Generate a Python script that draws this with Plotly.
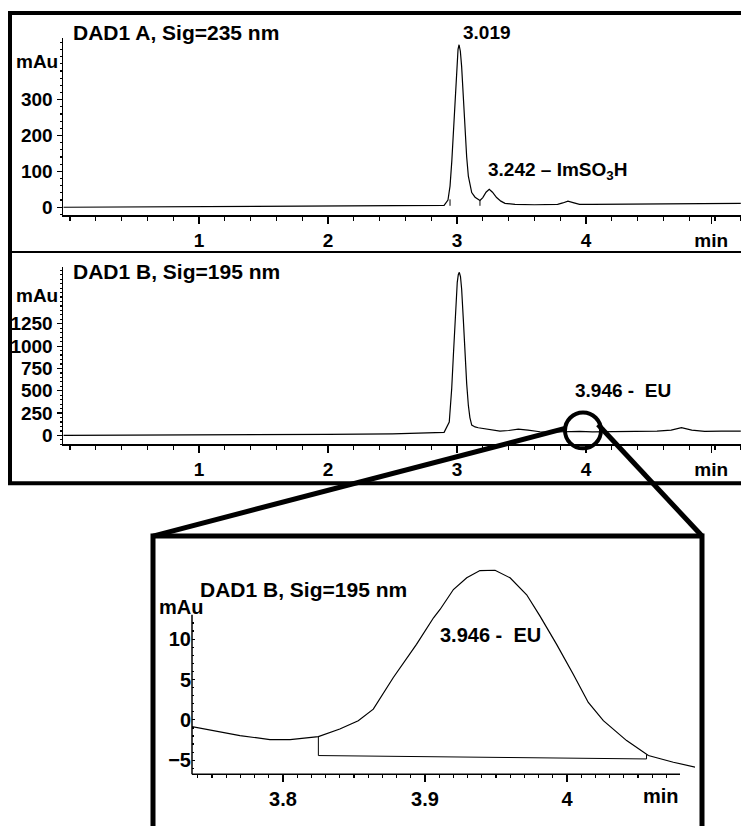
import plotly.graph_objects as go

W, H = 741, 826

# ---------------- data ----------------
# Panel A: DAD1 A, Sig=235 nm (time in min, signal in mAu)
a_time = [-0.05, 0.5, 1.0, 1.5, 2.0, 2.5, 2.8, 2.9, 2.93, 2.946, 2.96, 2.971, 2.985, 2.998, 3.008,
          3.016, 3.026, 3.036, 3.049, 3.062, 3.075, 3.088, 3.1, 3.114, 3.14, 3.165, 3.178, 3.2,
          3.225, 3.25, 3.275, 3.307, 3.34, 3.372, 3.45, 3.6, 3.72, 3.78, 3.82, 3.86, 3.9, 3.95,
          4.05, 4.3, 4.6, 4.9, 5.2]
a_signal = [0, 1, 2, 2, 3, 4, 5, 5, 20, 59, 130, 208, 300, 392, 440,
            453, 435, 392, 300, 208, 140, 87, 60, 41, 28, 22, 19, 27,
            42, 50, 42, 27, 17, 11, 8, 7, 7, 8, 12, 17, 13, 8,
            8, 8, 9, 10, 11]
a_drop_time = [2.946, 3.178]
a_drop_top = [22, 19]
a_drop_bottom = [4, 4]

# Panel B: DAD1 B, Sig=195 nm
b_time = [-0.05, 0.5, 1.0, 1.5, 2.0, 2.5, 2.8, 2.9, 2.94, 2.959, 2.972, 2.984, 2.994, 3.002, 3.01,
          3.018, 3.027, 3.036, 3.049, 3.062, 3.075, 3.088, 3.1, 3.114, 3.14, 3.165, 3.25, 3.333,
          3.4, 3.475, 3.55, 3.643, 3.75, 3.85, 3.95, 4.05, 4.2, 4.37, 4.55, 4.66, 4.74, 4.82,
          4.92, 5.05, 5.2]
b_signal = [0, 2, 5, 8, 12, 18, 25, 35, 150, 525, 900, 1270, 1550, 1715, 1800,
            1827, 1780, 1640, 1300, 896, 580, 338, 200, 115, 95, 86, 65, 48,
            55, 70, 60, 41, 38, 42, 45, 40, 42, 45, 48, 60, 86, 60,
            45, 48, 48]

# Inset: zoom of DAD1 B around the 3.946 min peak
z_time = [3.7357, 3.7697, 3.7908, 3.805, 3.8249, 3.840, 3.853, 3.8636, 3.8777, 3.894, 3.906,
          3.9106, 3.920, 3.9294, 3.9387, 3.9493, 3.9599, 3.9716, 3.981, 3.9927, 4.0044, 4.015,
          4.0256, 4.042, 4.0573, 4.0749, 4.0905]
z_signal = [-0.84, -1.95, -2.44, -2.44, -2.07, -1.13, -0.1, 1.33, 5.25, 9.36, 12.65,
            13.68, 16.15, 17.6, 18.5, 18.54, 17.6, 15.5, 12.86, 9.36, 5.65, 2.16,
            -0.1, -2.57, -4.42, -5.25, -5.86]
z_base_time = [3.8249, 3.8249, 4.056, 4.056]
z_base_signal = [-2.07, -4.42, -4.84, -4.3]

ab_tickvals = [1, 2, 3, 4, 4.97]
ab_ticktext = ["1", "2", "3", "4", "min"]
a_yticks = [0, 100, 200, 300]
b_yticks = [0, 250, 500, 750, 1000, 1250]
z_xticks = [3.8, 3.9, 4.0]
z_xticktext = ["3.8", "3.9", "4"]
z_yticks = [-5, 0, 5, 10]

# ---------------- helpers ----------------
def px(x):
    return x / W

def py(y):
    return 1 - y / H

FONT = "Liberation Sans, Arial, sans-serif"
tickfont = dict(family=FONT, size=19, color="black", weight="bold")
tickfont_z = dict(family=FONT, size=20, color="black", weight="bold")

fig = go.Figure()
line = dict(color="black", width=1.2)
fig.add_trace(go.Scatter(x=a_time, y=a_signal, mode="lines", line=line, xaxis="x", yaxis="y"))
dx, dy = [], []
for t, top, bot in zip(a_drop_time, a_drop_top, a_drop_bottom):
    dx += [t, t, None]
    dy += [bot, top, None]
fig.add_trace(go.Scatter(x=dx, y=dy, mode="lines", line=dict(color="black", width=1), xaxis="x", yaxis="y"))
fig.add_trace(go.Scatter(x=b_time, y=b_signal, mode="lines", line=line, xaxis="x2", yaxis="y2"))
fig.add_trace(go.Scatter(x=z_time, y=z_signal, mode="lines", line=line, xaxis="x3", yaxis="y3"))
fig.add_trace(go.Scatter(x=z_base_time, y=z_base_signal, mode="lines", line=dict(color="black", width=1),
                         xaxis="x3", yaxis="y3"))
# empty traces so the tick-only inset axes get their subplots
fig.add_trace(go.Scatter(x=[None], y=[None], mode="lines", xaxis="x3", yaxis="y4", hoverinfo="skip"))
fig.add_trace(go.Scatter(x=[None], y=[None], mode="lines", xaxis="x4", yaxis="y3", hoverinfo="skip"))

common_x = dict(showgrid=False, zeroline=False, showline=True, linecolor="black", linewidth=1.5,
                ticks="outside", ticklen=7, tickcolor="black", tickwidth=1.2, tickfont=tickfont,
                tickvals=ab_tickvals, ticktext=ab_ticktext,
                minor=dict(ticks="outside", ticklen=4, dtick=0.2, tick0=0, tickcolor="black", showgrid=False))
common_y = dict(showgrid=False, zeroline=False, showline=True, linecolor="black", linewidth=1.5,
                ticks="outside", ticklen=5, tickcolor="black", tickwidth=1.2, tickfont=tickfont)

x_dom = [63 / W, 1.0]
x_rng = [(63 - 70) / 129, (741 - 70) / 129]

# inset scale: 3.8 min at x=283 px, 1420 px per min; 0 mAu at y=722.5 px, 8.1 px per mAu
ZX0, ZXS, ZY0, ZYS = 283, 1420, 722.5, 8.1
z_left, z_right, z_axis_right = 192, 695, 680
z_bottom, z_top, z_axis_top = 777, 565, 617

fig.update_layout(
    width=W, height=H, margin=dict(l=0, r=0, t=0, b=0),
    paper_bgcolor="white", plot_bgcolor="rgba(0,0,0,0)", showlegend=False,
    xaxis=dict(domain=x_dom, range=x_rng, anchor="y", **common_x),
    yaxis=dict(domain=[py(216), py(38)], range=[(208 - 216) / 0.36, (208 - 38) / 0.36], anchor="x",
               tickvals=a_yticks, minor=dict(ticks="outside", ticklen=2, dtick=20, tick0=0, tickcolor="black"),
               **common_y),
    xaxis2=dict(domain=x_dom, range=x_rng, anchor="y2", **common_x),
    yaxis2=dict(domain=[py(446), py(268)], range=[(437 - 446) / 0.0896, (437 - 268) / 0.0896], anchor="x2",
                tickvals=b_yticks, minor=dict(ticks="outside", ticklen=2, dtick=50, tick0=0, tickcolor="black"),
                **common_y),
    xaxis3=dict(domain=[z_left / W, z_right / W],
                range=[3.8 + (z_left - ZX0) / ZXS, 3.8 + (z_right - ZX0) / ZXS],
                anchor="y3", showgrid=False, zeroline=False, showline=False, ticks="", showticklabels=False),
    xaxis4=dict(domain=[z_left / W, z_axis_right / W],
                range=[3.8 + (z_left - ZX0) / ZXS, 3.8 + (z_axis_right - ZX0) / ZXS],
                anchor="y3", showgrid=False, zeroline=False, showline=False,
                ticks="outside", ticklen=7, tickcolor="black", tickwidth=1.2, tickfont=tickfont_z,
                tickvals=z_xticks, ticktext=z_xticktext,
                minor=dict(ticks="outside", ticklen=3, dtick=0.01, tick0=3.7, tickcolor="black")),
    yaxis3=dict(domain=[py(z_bottom), py(z_top)],
                range=[(ZY0 - z_bottom) / ZYS, (ZY0 - z_top) / ZYS], anchor="x3",
                showgrid=False, zeroline=False, showline=False, ticks="", showticklabels=False),
    yaxis4=dict(domain=[py(z_bottom), py(z_axis_top)],
                range=[(ZY0 - z_bottom) / ZYS, (ZY0 - z_axis_top) / ZYS], anchor="x3",
                showgrid=False, zeroline=False, showline=False,
                ticks="inside", ticklen=3, tickcolor="black", tickwidth=1.2, tickfont=tickfont_z,
                tickvals=z_yticks, minor=dict(ticks="inside", ticklen=2, dtick=1, tick0=0, tickcolor="black")),
)

shapes = [
    # outer frame of the two chromatograms
    dict(type="rect", xref="paper", yref="paper", x0=px(10), x1=px(760), y0=py(485), y1=py(13),
         line=dict(color="black", width=4)),
    dict(type="line", xref="paper", yref="paper", x0=px(10), x1=px(760), y0=py(253), y1=py(253),
         line=dict(color="black", width=2)),
    # inset frame
    dict(type="rect", xref="paper", yref="paper", x0=px(153), x1=px(702), y0=py(840), y1=py(538),
         line=dict(color="black", width=5)),
    # inset axes lines
    dict(type="line", xref="paper", yref="paper", x0=px(z_left), x1=px(z_axis_right), y0=py(z_bottom),
         y1=py(z_bottom), line=dict(color="black", width=1.5)),
    dict(type="line", xref="paper", yref="paper", x0=px(z_left), x1=px(z_left), y0=py(z_bottom),
         y1=py(z_axis_top), line=dict(color="black", width=1.5)),
    # magnifier circle and connectors
    dict(type="circle", xref="paper", yref="paper", x0=px(565), x1=px(601), y0=py(450), y1=py(414),
         line=dict(color="black", width=4)),
    dict(type="line", xref="paper", yref="paper", x0=px(565), x1=px(153), y0=py(430), y1=py(538),
         line=dict(color="black", width=5)),
    dict(type="line", xref="paper", yref="paper", x0=px(598), x1=px(702), y0=py(426), y1=py(538),
         line=dict(color="black", width=5)),
]
fig.update_layout(shapes=shapes)

def txt(x, y, s, size=19, anchor="left"):
    return dict(x=px(x), y=py(y), xref="paper", yref="paper", text=s, showarrow=False,
                xanchor=anchor, yanchor="middle",
                font=dict(family=FONT, size=size, color="black", weight="bold"))

fig.update_layout(annotations=[
    txt(71, 33, "DAD1 A, Sig=235 nm", 21),
    txt(14, 62, "mAu", 19),
    txt(461, 33, "3.019", 19),
    txt(486, 172, "3.242 – ImSO<sub>3</sub>H", 19),
    txt(71, 272, "DAD1 B, Sig=195 nm", 21),
    txt(14, 297, "mAu", 19),
    txt(573, 392, "3.946 -  EU", 19),
    txt(198, 592, "DAD1 B, Sig=195 nm", 21),
    txt(157, 609, "mAu", 20),
    txt(438, 637, "3.946 -  EU", 20),
    txt(661, 799, "min", 20, "center"),
])

fig.write_html("out.html", config={"displayModeBar": False, "staticPlot": True},
               post_script="document.body.style.margin='0';document.body.style.overflow='hidden';")
